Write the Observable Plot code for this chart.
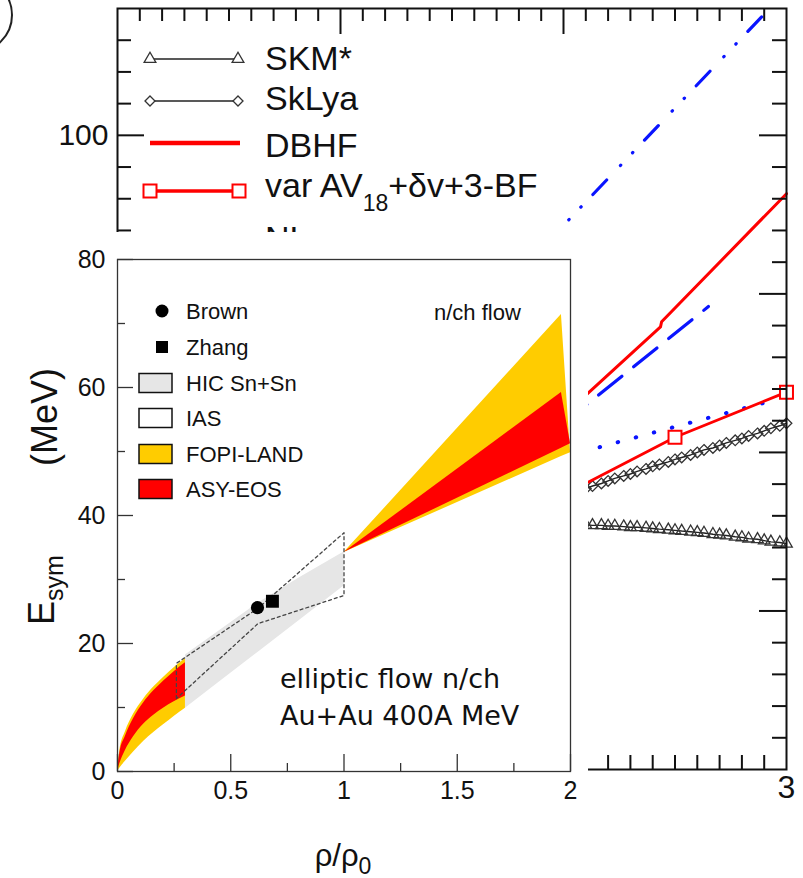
<!DOCTYPE html>
<html><head><meta charset="utf-8">
<script src="https://cdn.jsdelivr.net/npm/d3@7"></script>
<script src="https://cdn.jsdelivr.net/npm/@observablehq/plot@0.6"></script>
<style>
body{margin:0;background:#fff;}
#wrap{position:relative;width:803px;height:878px;overflow:hidden;background:#fff;font-family:"Liberation Sans",Arial,sans-serif;}
#bg{position:absolute;left:0;top:0;width:803px;height:878px;}
#inset{position:absolute;left:0;top:232px;width:588px;height:646px;background:#fff;}
svg{display:block;}
</style></head><body>
<div id="wrap"><div id="bg"></div><div id="inset"></div></div>
<script>
// ---------- Background chart: E_sym (MeV) vs rho/rho0 (0..3) ----------
const bgX = [2.00,2.03,2.07,2.10,2.13,2.17,2.20,2.23,2.27,2.30,2.33,2.37,2.40,2.43,2.47,2.50,2.53,2.57,2.60,2.63,2.67,2.70,2.73,2.77,2.80,2.83,2.87,2.90,2.93,2.97,3.00];
const skmY = [38.7,38.7,38.6,38.6,38.5,38.5,38.4,38.4,38.3,38.2,38.2,38.1,38.0,37.9,37.8,37.7,37.6,37.5,37.4,37.3,37.1,37.0,36.9,36.7,36.6,36.4,36.3,36.1,35.9,35.8,35.6];
const sklyaY = [43.2,43.6,44.0,44.3,44.7,45.1,45.5,45.9,46.3,46.6,47.0,47.4,47.8,48.1,48.5,48.9,49.2,49.6,50.0,50.4,50.7,51.1,51.5,51.9,52.2,52.6,53.0,53.4,53.8,54.2,54.6];
const dbhfX = [2.0, 2.435, 2.44, 3.0];
const dbhfY = [55.8, 69.8, 70.6, 90.8];
const avX = [2.0, 2.5, 3.0];
const avY = [43.3, 52.4, 59.5];
const dashDotX = [1.9, 2.0, 3.0];
const dashDotY = [82.1, 85.8, 122.8];
const dashX = [2.0, 2.65];
const dashY = [54.6, 73.0];
const dotX = [2.0, 2.95];
const dotY = [49.3, 58.3];
const bgYLabels = [100];
const bgXLabels = [3];
const bgLegend = ["SKM*", "SkLya", "DBHF", "var AV", "NLρ"];

// ---------- Inset: E_sym vs rho/rho0 (0..2) ----------
const lowX = [0, 0.01, 0.035, 0.07, 0.115, 0.16, 0.203, 0.25, 0.3];
const fopiLowLo = [0, 0.5, 1.6, 3.0, 4.7, 6.1, 7.3, 8.6, 9.9];
const fopiLowHi = [0, 3.2, 6.2, 8.9, 11.3, 13.2, 14.7, 16.2, 17.6];
const asyLowLo = [0, 1.2, 3.3, 5.4, 7.4, 8.8, 9.9, 10.9, 11.8];
const asyLowHi = [0, 2.8, 5.5, 8.2, 10.7, 12.6, 14.1, 15.6, 17.0];
const highX = [1.0, 1.96, 2.0];
const fopiHighLo = [34.2, 49.2, 49.8];
const fopiHighHi = [34.2, 71.4, 49.8];
const asyHighLo = [34.2, 50.5, 51.2];
const asyHighHi = [34.2, 59.2, 51.2];
const hicX = [0.3, 0.45, 0.62, 0.8, 1.0];
const hicLo = [9.9, 14.0, 18.6, 23.5, 29.0];
const hicHi = [18.2, 22.0, 26.3, 30.2, 34.3];
const iasX = [0.26, 0.26, 0.62, 1.0, 1.0, 0.62, 0.26];
const iasY = [11.4, 16.9, 25.5, 37.3, 27.5, 23.1, 11.4];
const brownX = [0.618], brownY = [25.6];
const zhangX = [0.684], zhangY = [26.6];
const inXLabels = [0, 0.5, 1, 1.5, 2];
const inYLabels = [0, 20, 40, 60, 80];
const inLegend = ["Brown", "Zhang", "HIC Sn+Sn", "IAS", "FOPI-LAND", "ASY-EOS"];
const inLegendFill = [null, null, "#e6e6e6", "#ffffff", "#ffcc00", "#ff0000"];

const FONT = '"Liberation Sans", Arial, sans-serif';

// ===== Background plot =====
const BW = 803, BH = 878, bml = 117, bmr = 17, bmt = 8, bmb = 109;
const bfw = BW - bml - bmr, bfh = BH - bmt - bmb;
const minorX = d3.range(1, 30).map(i => i / 10).filter(v => Math.abs(v - 1) > 1e-6 && Math.abs(v - 2) > 1e-6);
const majorX = [1, 2];
const minorY = d3.range(1, 24).map(i => i * 5).filter(v => v % 25 !== 0);
const majorY = [25, 50, 75, 100];
const tk = {stroke: "#111", strokeWidth: 2};

const bg = Plot.plot({
  width: BW, height: BH,
  marginLeft: bml, marginRight: bmr, marginTop: bmt, marginBottom: bmb,
  style: {fontFamily: FONT, background: "white"},
  x: {domain: [0, 3], axis: null},
  y: {domain: [0, 120], axis: null},
  marks: [
    Plot.line(dashDotY, {x: dashDotX, y: dashDotY, stroke: "#0a14ff", strokeWidth: 3.2, strokeDasharray: "20 20 0.5 17 0.5 17", strokeLinecap: "round", clip: true}),
    Plot.line(dashY, {x: dashX, y: dashY, stroke: "#0a14ff", strokeWidth: 3.2, strokeDasharray: "30 15"}),
    Plot.line(dotY, {x: dotX, y: dotY, stroke: "#0a14ff", strokeWidth: 4, strokeDasharray: "0.5 18.2", strokeLinecap: "round"}),
    Plot.line(dbhfY, {x: dbhfX, y: dbhfY, stroke: "#ff0000", strokeWidth: 3}),
    Plot.line(skmY, {x: bgX, y: skmY, stroke: "#222", strokeWidth: 1.4}),
    Plot.dot(skmY, {x: bgX, y: skmY, symbol: "triangle", r: 4.3, stroke: "#333", strokeWidth: 1.3, fill: "none"}),
    Plot.line(sklyaY, {x: bgX, y: sklyaY, stroke: "#222", strokeWidth: 1.4}),
    Plot.dot(sklyaY, {x: bgX, y: sklyaY, symbol: "diamond2", r: 4.8, stroke: "#333", strokeWidth: 1.3, fill: "none"}),
    Plot.line(avY, {x: avX, y: avY, stroke: "#ff0000", strokeWidth: 2.8}),
    Plot.dot(avY, {x: avX, y: avY, symbol: "square", r: 7.3, stroke: "#ff0000", strokeWidth: 2, fill: "white"}),
    Plot.frame({stroke: "#111", strokeWidth: 2}),
    Plot.tickX(minorX, {x: d => d, insetBottom: bfh - 13, ...tk}),
    Plot.tickX(majorX, {x: d => d, insetBottom: bfh - 26, ...tk}),
    Plot.tickX(minorX, {x: d => d, insetTop: bfh - 14, ...tk}),
    Plot.tickX(majorX, {x: d => d, insetTop: bfh - 26, ...tk}),
    Plot.tickY(minorY, {y: d => d, insetRight: bfw - 14, ...tk}),
    Plot.tickY(majorY, {y: d => d, insetRight: bfw - 27, ...tk}),
    Plot.tickY(minorY, {y: d => d, insetLeft: bfw - 14, ...tk}),
    Plot.tickY(majorY, {y: d => d, insetLeft: bfw - 27, ...tk}),
    Plot.text(bgYLabels, {y: d => d, frameAnchor: "left", dx: -9, textAnchor: "end", text: d => String(d), fontSize: 30, fill: "#111"}),
    Plot.text(bgXLabels, {x: d => d, frameAnchor: "bottom", dy: 28, text: d => String(d), fontSize: 32, fill: "#111"})
  ]
});
document.getElementById("bg").appendChild(bg);

// background legend
{
  const s = d3.select(bg);
  const g = s.append("g").attr("font-family", FONT).attr("fill", "#111").attr("text-anchor", "start");
  // fragment of the circled panel label at the top-left corner
  g.append("circle").attr("cx", -25).attr("cy", 15).attr("r", 37).attr("fill", "none").attr("stroke", "#222").attr("stroke-width", 2);
  const ln = (y, stroke, w) => g.append("line").attr("x1", 150).attr("x2", 239).attr("y1", y).attr("y2", y).attr("stroke", stroke).attr("stroke-width", w);
  const sym = (type, size, x, y, stroke, sw) => g.append("path").attr("d", d3.symbol(type, size)()).attr("transform", `translate(${x},${y})`).attr("fill", "white").attr("stroke", stroke).attr("stroke-width", sw);
  ln(59, "#222", 1.5); sym(d3.symbolTriangle, 60, 150, 59, "#333", 1.3); sym(d3.symbolTriangle, 60, 238, 59, "#333", 1.3);
  ln(101, "#222", 1.5); sym(d3.symbolDiamond2, 64, 150, 101, "#333", 1.3); sym(d3.symbolDiamond2, 64, 238, 101, "#333", 1.3);
  g.append("line").attr("x1", 150).attr("x2", 240).attr("y1", 143).attr("y2", 143).attr("stroke", "#ff0000").attr("stroke-width", 4.5);
  ln(191, "#ff0000", 3.5); sym(d3.symbolSquare, 169, 150, 191, "#ff0000", 2); sym(d3.symbolSquare, 169, 239, 191, "#ff0000", 2);
  const tx = (y, t) => g.append("text").attr("x", 265).attr("y", y).attr("font-size", 34).text(t);
  tx(70, bgLegend[0]); tx(110, bgLegend[1]); tx(157, bgLegend[2]);
  const t4 = g.append("text").attr("x", 265).attr("y", 197).attr("font-size", 34);
  t4.append("tspan").text(bgLegend[3]);
  t4.append("tspan").attr("font-size", 23).attr("dy", 14).text("18");
  t4.append("tspan").attr("dy", -14).text("+δv+3-BF");
  tx(250, bgLegend[4]);
}

// ===== Inset plot =====
const IW = 588, IH = 646, iml = 117, imr = 18, imt = 27, imb = 107;
const ifw = IW - iml - imr, ifh = IH - imt - imb;
const itk = {stroke: "#333", strokeWidth: 1.3};
const inset = Plot.plot({
  width: IW, height: IH,
  marginLeft: iml, marginRight: imr, marginTop: imt, marginBottom: imb,
  style: {fontFamily: FONT, background: "white"},
  x: {domain: [0, 2], axis: null},
  y: {domain: [0, 80], axis: null},
  marks: [
    Plot.areaY(hicX, {x: hicX, y1: hicLo, y2: hicHi, fill: "#e6e6e6"}),
    Plot.areaY(lowX, {x: lowX, y1: fopiLowLo, y2: fopiLowHi, fill: "#ffcc00", curve: "monotone-x"}),
    Plot.areaY(lowX, {x: lowX, y1: asyLowLo, y2: asyLowHi, fill: "#ff0000", curve: "monotone-x"}),
    Plot.areaY(highX, {x: highX, y1: fopiHighLo, y2: fopiHighHi, fill: "#ffcc00"}),
    Plot.areaY(highX, {x: highX, y1: asyHighLo, y2: asyHighHi, fill: "#ff0000"}),
    Plot.line(iasY, {x: iasX, y: iasY, stroke: "#444", strokeWidth: 1.3, strokeDasharray: "3 3"}),
    Plot.dot(brownY, {x: brownX, y: brownY, r: 6.6, fill: "#000"}),
    Plot.dot(zhangY, {x: zhangX, y: zhangY, symbol: "square", r: 7.3, fill: "#000"}),
    Plot.frame({stroke: "#333", strokeWidth: 1.3}),
    Plot.tickX([0, 0.5, 1, 1.5, 2], {x: d => d, insetTop: ifh - 17, ...itk}),
    Plot.tickX([0.25, 0.75, 1.25, 1.75], {x: d => d, insetTop: ifh - 8, ...itk}),
    Plot.tickY([0, 20, 40, 60, 80], {y: d => d, insetRight: ifw - 16, ...itk}),
    Plot.tickY([10, 30, 50, 70], {y: d => d, insetRight: ifw - 8, ...itk}),
    Plot.text(inXLabels, {x: d => d, frameAnchor: "bottom", dy: 27, text: d => String(d), fontSize: 25, fill: "#111"}),
    Plot.text(inYLabels, {y: d => d, frameAnchor: "left", dx: -12, textAnchor: "end", text: d => String(d), fontSize: 25, fill: "#111"})
  ]
});
document.getElementById("inset").appendChild(inset);

{
  const s = d3.select(inset);
  const g = s.append("g").attr("font-family", FONT).attr("fill", "#111").attr("text-anchor", "start");
  const ys = [79, 115, 151, 186, 222, 257];
  g.append("circle").attr("cx", 162).attr("cy", ys[0]).attr("r", 6.5).attr("fill", "#000");
  g.append("rect").attr("x", 156).attr("y", ys[1] - 6).attr("width", 12).attr("height", 12).attr("fill", "#000");
  for (let i = 2; i < 6; i++) {
    g.append("rect").attr("x", 139).attr("y", ys[i] - 9.5).attr("width", 33).attr("height", 19)
      .attr("fill", inLegendFill[i]).attr("stroke", "#111").attr("stroke-width", 1.5);
  }
  inLegend.forEach((t, i) => g.append("text").attr("x", 186).attr("y", ys[i]).attr("dy", "0.36em").attr("font-size", 22).text(t));
  g.append("text").attr("x", 434).attr("y", 88).attr("font-size", 22).text("n/ch flow");
  const dj = '"DejaVu Sans", Verdana, sans-serif';
  g.append("text").attr("x", 280).attr("y", 456).attr("font-size", 27).attr("font-family", dj).text("elliptic flow n/ch");
  g.append("text").attr("x", 280).attr("y", 493).attr("font-size", 27).attr("font-family", dj).text("Au+Au 400A MeV");
  // y title: E_sym (MeV), rotated
  const y1 = g.append("text").attr("transform", "translate(54,358) rotate(-90)").attr("text-anchor", "middle").attr("font-size", 36);
  y1.append("tspan").text("E");
  y1.append("tspan").attr("font-size", 25).attr("dy", 9).text("sym");
  g.append("text").attr("transform", "translate(57,185) rotate(-90)").attr("text-anchor", "middle").attr("font-size", 36).text("(MeV)");
  // x title
  const xt = g.append("text").attr("x", 343).attr("y", 634).attr("text-anchor", "middle").attr("font-size", 31);
  xt.append("tspan").text("ρ/ρ");
  xt.append("tspan").attr("font-size", 23).attr("dy", 8).text("0");
}
</script>
</body></html>
